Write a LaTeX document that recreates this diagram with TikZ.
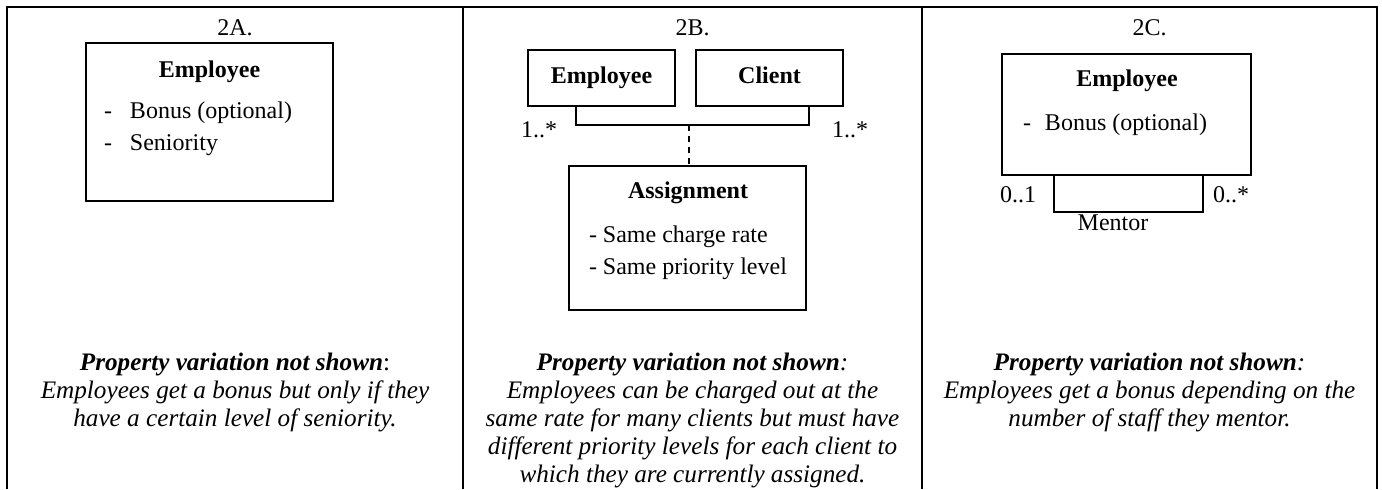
\documentclass[tikz,border=0pt]{standalone}
\usepackage{fontspec}
\setmainfont{Liberation Serif}
\usetikzlibrary{positioning}

\begin{document}
\begin{tikzpicture}[x=0.5pt, y=-0.5pt,
    every node/.style={inner sep=0pt, outer sep=0pt, font=\fontsize{12}{13}\selectfont},
    classbox/.style={draw, rectangle, line width=1pt},
    namebox/.style={classbox, font=\fontsize{12}{13}\selectfont\bfseries, text height=8.2pt, text depth=2.6pt},
    heading/.style={anchor=base, font=\fontsize{12}{13}\selectfont\bfseries},
    attr/.style={anchor=base west},
    mult/.style={anchor=base},
    assoc/.style={line width=0.8pt},
    note/.style={align=center, anchor=north, font=\fontsize{12.6}{14}\selectfont\itshape},
    grid/.style={line width=1pt}]

    \useasboundingbox (0,0) rectangle (1382,489);

    % Table frame
    \draw[grid] (7,489) -- (7,7) -- (1377,7) -- (1377,489);
    \draw[grid] (463,7) -- (463,489);
    \draw[grid] (922,7) -- (922,489);

    % Column titles
    \node[mult] (titleA) at (235,35) {2A.};
    \node[mult] (titleB) at (692.5,35) {2B.};
    \node[mult] (titleC) at (1149.5,35) {2C.};

    % 2A
    \node[classbox, minimum width=123.5pt, minimum height=79pt] (empA) at (209.5,122) {};
    \node[heading] (empAname) at (209.5,77) {Employee};
    \node[attr] (bonusA) at (104,118) {\makebox[13pt][l]{-}Bonus (optional)};
    \node[attr] (senA) at (104,150) {\makebox[13pt][l]{-}Seniority};

    % 2B
    \node[namebox, minimum width=73.5pt, minimum height=28pt] (empB) at (601.5,78) {Employee};
    \node[namebox, minimum width=73.5pt, minimum height=28pt] (cliB) at (769.5,78) {Client};
    \node[classbox, minimum width=118.5pt, minimum height=72pt] (asgB) at (687.5,238) {};
    \node[heading] (asgBname) at (688,198) {Assignment};
    \node[attr] (rateB) at (589,242) {- Same charge rate};
    \node[attr] (prioB) at (589,274) {- Same priority level};

    \coordinate (brL) at (576,125);
    \coordinate (brR) at (809,125);
    \coordinate (brM) at (689,125);
    \draw[assoc] (empB.south -| brL) -- (brL) -- (brR) -- (cliB.south -| brR);
    \draw[assoc, dash pattern=on 3pt off 2.5pt] (brM) -- (asgB.north -| brM);

    \node[mult] (multEmpB) at (539,137) {1..*};
    \node[mult] (multCliB) at (850,137) {1..*};

    % 2C
    \node[classbox, minimum width=124.5pt, minimum height=60.5pt] (empC) at (1126.5,114.5) {};
    \node[heading] (empCname) at (1127,86) {Employee};
    \node[attr] (bonusC) at (1023,130) {\makebox[11pt][l]{-}Bonus (optional)};

    \coordinate (mtL) at (1054,212);
    \coordinate (mtR) at (1203,212);
    \draw[assoc] (empC.south -| mtL) -- (mtL) -- (mtR) -- (empC.south -| mtR);

    \node[mult] (multL) at (1018,202) {0..1};
    \node[mult] (multR) at (1231,202) {0..*};
    \node[mult] (mentor) at (1113,230) {Mentor};

    % Notes
    \node[note] (noteA) at (235,353) {\textbf{Property variation not shown}\textup{:}\\Employees get a bonus but only if they\\have a certain level of seniority.};
    \node[note] (noteB) at (692.5,353) {\textbf{Property variation not shown}:\\Employees can be charged out at the\\same rate for many clients but must have\\different priority levels for each client to\\which they are currently assigned.};
    \node[note] (noteC) at (1149.5,353) {\textbf{Property variation not shown}:\\Employees get a bonus depending on the\\number of staff they mentor.};

\end{tikzpicture}
\end{document}
